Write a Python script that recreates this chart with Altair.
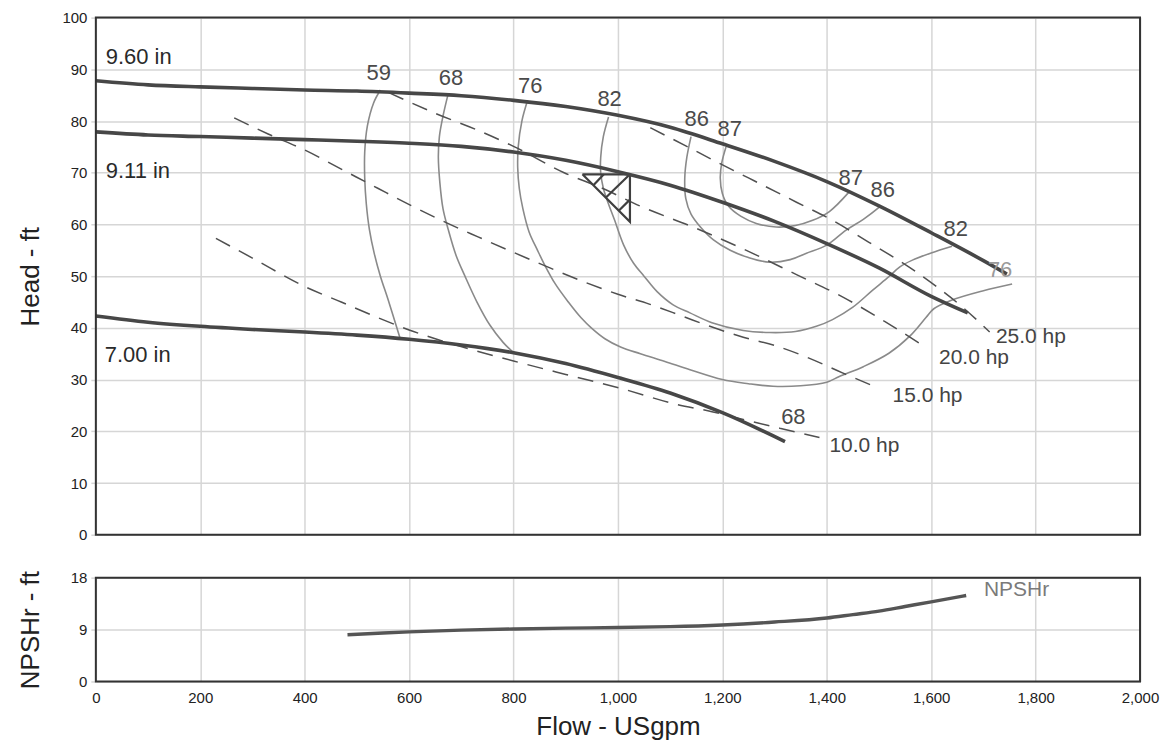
import altair as alt
import pandas as pd

# ---------------- data ----------------
FLOW_TICKS = [0, 200, 400, 600, 800, 1000, 1200, 1400, 1600, 1800, 2000]
HEAD_TICKS = [0, 10, 20, 30, 40, 50, 60, 70, 80, 90, 100]
NPSH_TICKS = [0, 9, 18]

# impeller head curves
imp960_flow = [0, 100, 200, 300, 400, 500, 600, 700, 800, 900, 1000, 1100, 1200, 1300, 1400, 1500, 1600, 1700, 1745]
imp960_head = [87.8, 87.0, 86.6, 86.3, 86.0, 85.8, 85.4, 84.9, 84.0, 82.8, 81.1, 78.8, 75.6, 72.2, 68.3, 63.6, 58.4, 53.0, 50.4]
imp911_flow = [0, 100, 200, 300, 400, 500, 600, 700, 800, 900, 1000, 1100, 1200, 1300, 1400, 1500, 1600, 1670]
imp911_head = [77.9, 77.3, 77.0, 76.7, 76.4, 76.1, 75.7, 75.1, 74.0, 72.4, 70.2, 67.6, 64.3, 60.6, 56.3, 51.6, 46.1, 42.9]
imp700_flow = [0, 100, 200, 300, 400, 500, 600, 700, 800, 900, 1000, 1100, 1200, 1320]
imp700_head = [42.3, 41.1, 40.3, 39.7, 39.2, 38.6, 37.8, 36.7, 35.2, 33.1, 30.4, 27.4, 23.6, 18.0]

# iso-efficiency curves
eff59_flow = [545, 532, 520, 515, 515, 518, 524, 533, 545, 560, 583]
eff59_head = [86.0, 83.5, 79.0, 74.0, 69.0, 64.0, 59.0, 54.5, 50.0, 45.4, 37.9]
eff68_flow = [675, 665, 658, 656, 659, 665, 675, 690, 707, 730, 755, 780, 800]
eff68_head = [85.3, 81.0, 77.0, 73.0, 68.0, 63.0, 59.0, 54.0, 50.0, 45.0, 40.5, 37.2, 35.2]
eff76_flow = [827, 816, 809, 808, 811, 818, 830, 846, 859, 880, 905, 929, 950, 975, 1005, 1043, 1090, 1138, 1200,
              1250, 1297, 1350, 1400, 1424, 1470, 1519, 1560, 1590, 1605, 1640, 1700, 1755]
eff76_head = [84.0, 80.0, 75.0, 71.0, 67.0, 63.0, 58.5, 55.0, 52.3, 48.5, 45.0, 42.0, 39.9, 37.9, 36.3, 35.0, 33.5,
              31.9, 30.0, 29.2, 28.7, 28.8, 29.5, 30.6, 32.5, 35.1, 38.5, 42.0, 43.7, 45.4, 47.2, 48.5]
eff82_flow = [982, 972, 967, 967, 972, 980, 993, 1011, 1030, 1050, 1075, 1105, 1138, 1180, 1240, 1291, 1340, 1380,
              1411, 1450, 1488, 1519, 1540, 1564, 1600, 1640]
eff82_head = [80.8, 77.0, 73.0, 70.0, 67.0, 64.5, 61.0, 56.0, 52.5, 50.0, 47.0, 44.5, 42.9, 41.0, 39.5, 39.1, 39.3,
              40.3, 41.6, 44.0, 47.3, 49.9, 51.8, 53.1, 54.5, 55.8]
eff86_flow = [1140, 1132, 1128, 1130, 1140, 1158, 1183, 1215, 1250, 1290, 1330, 1360, 1400, 1437, 1470, 1500]
eff86_head = [77.0, 73.0, 69.0, 65.0, 62.0, 59.5, 57.0, 55.0, 53.6, 52.7, 53.2, 54.4, 56.0, 58.9, 61.0, 63.3]
eff87_flow = [1207, 1199, 1196, 1200, 1212, 1235, 1265, 1303, 1340, 1373, 1405, 1442]
eff87_head = [75.0, 72.0, 69.0, 66.0, 63.5, 61.6, 60.2, 59.5, 59.8, 60.8, 62.5, 66.2]

# constant-power lines
hp25_flow = [1062, 1130, 1189, 1250, 1303, 1342, 1411, 1480, 1557, 1610, 1659, 1712]
hp25_head = [78.7, 75.2, 72.1, 69.0, 66.3, 64.3, 60.8, 56.6, 51.8, 48.0, 44.1, 39.2]
hp20_flow = [561, 650, 732, 802, 897, 970, 1037, 1151, 1250, 1342, 1430, 1510, 1592]
hp20_head = [85.5, 81.5, 78.2, 75.0, 70.0, 67.0, 63.8, 59.2, 54.8, 50.3, 46.0, 41.3, 36.1]
hp15_flow = [265, 330, 400, 472, 540, 605, 670, 732, 800, 872, 940, 1000, 1060, 1120, 1176, 1240, 1303, 1360, 1430, 1500]
hp15_head = [80.6, 77.5, 74.4, 70.6, 67.0, 63.6, 60.4, 57.6, 54.6, 51.5, 48.7, 46.5, 44.6, 42.4, 40.3, 38.2, 36.5,
             34.4, 31.3, 28.3]
hp10_flow = [230, 300, 400, 470, 535, 600, 656, 720, 800, 900, 1002, 1113, 1180, 1240, 1310, 1386]
hp10_head = [57.3, 53.5, 48.0, 45.0, 42.2, 39.6, 37.7, 35.8, 33.6, 31.0, 28.4, 25.2, 23.8, 22.3, 20.6, 18.8]

# duty point triangle and its hatching
tri_flow = [932, 1023, 1023, 932]
tri_head = [69.7, 69.7, 60.5, 69.7]
hatch1_flow = [973, 953]
hatch1_head = [69.7, 67.6]
hatch2_flow = [1023, 977]
hatch2_head = [69.7, 65.2]
hatch3_flow = [1023, 1002]
hatch3_head = [64.8, 62.7]

# NPSHr curve
npsh_flow = [482, 550, 600, 700, 800, 900, 1000, 1100, 1200, 1300, 1400, 1450, 1500, 1550, 1600, 1667]
npsh_val = [8.1, 8.4, 8.6, 8.9, 9.1, 9.25, 9.35, 9.5, 9.8, 10.3, 11.0, 11.6, 12.2, 13.0, 13.8, 14.9]

# labels
imp_label_text = ["9.60 in", "9.11 in", "7.00 in"]
imp_label_flow = [19, 19, 17]
imp_label_head = [92.4, 70.3, 34.8]
eff_label_text = ["59", "68", "76", "82", "86", "87", "87", "86", "82", "68"]
eff_label_flow = [542, 680, 832, 984, 1151, 1214, 1446, 1507, 1647, 1336]
eff_label_head = [89.3, 88.4, 86.8, 84.3, 80.3, 78.4, 68.9, 66.6, 59.1, 22.7]
end_label_text = ["76"]
end_label_flow = [1732]
end_label_head = [51.2]
hp_label_text = ["25.0 hp", "20.0 hp", "15.0 hp", "10.0 hp"]
hp_label_flow = [1724, 1615, 1526, 1405]
hp_label_head = [38.3, 34.2, 26.8, 17.1]
npsh_label_text = ["NPSHr"]
npsh_label_flow = [1701]
npsh_label_val = [15.8]


def curve_df(name, flows, heads):
    return pd.DataFrame({"flow": flows, "head": heads, "curve": name, "ord": list(range(len(flows)))})


imp_df = pd.concat([curve_df("9.60", imp960_flow, imp960_head),
                    curve_df("9.11", imp911_flow, imp911_head),
                    curve_df("7.00", imp700_flow, imp700_head)])
eff_df = pd.concat([curve_df("59", eff59_flow, eff59_head),
                    curve_df("68", eff68_flow, eff68_head),
                    curve_df("76", eff76_flow, eff76_head),
                    curve_df("82", eff82_flow, eff82_head),
                    curve_df("86", eff86_flow, eff86_head),
                    curve_df("87", eff87_flow, eff87_head)])
hp_df = pd.concat([curve_df("25", hp25_flow, hp25_head),
                   curve_df("20", hp20_flow, hp20_head),
                   curve_df("15", hp15_flow, hp15_head),
                   curve_df("10", hp10_flow, hp10_head)])
tri_df = pd.concat([curve_df("tri", tri_flow, tri_head),
                    curve_df("h1", hatch1_flow, hatch1_head),
                    curve_df("h2", hatch2_flow, hatch2_head),
                    curve_df("h3", hatch3_flow, hatch3_head)])
npsh_df = pd.DataFrame({"flow": npsh_flow, "npsh": npsh_val, "ord": list(range(len(npsh_flow)))})

imp_lab = pd.DataFrame({"flow": imp_label_flow, "head": imp_label_head, "label": imp_label_text})
eff_lab = pd.DataFrame({"flow": eff_label_flow, "head": eff_label_head, "label": eff_label_text})
end_lab = pd.DataFrame({"flow": end_label_flow, "head": end_label_head, "label": end_label_text})
hp_lab = pd.DataFrame({"flow": hp_label_flow, "head": hp_label_head, "label": hp_label_text})
npsh_lab = pd.DataFrame({"flow": npsh_label_flow, "npsh": npsh_label_val, "label": npsh_label_text})
one_row = pd.DataFrame({"k": [0]})

# ---------------- styling ----------------
FONT = "Liberation Sans"
GRID = "#d6d6d6"
TXT = "#222222"
FRAME = "#333333"
W_PLOT = 1046
H_TOP = 518
H_BOT = 104

X_SCALE = alt.Scale(domain=[0, 2000], nice=False, zero=False)
Y_SCALE = alt.Scale(domain=[0, 100], nice=False)
N_SCALE = alt.Scale(domain=[0, 18], nice=False)

y_axis_common = dict(grid=True, gridColor=GRID, gridWidth=1.5, domain=False,
                     ticks=True, tickColor=GRID, tickSize=5, tickWidth=1.5,
                     labelFontSize=15, labelColor=TXT, labelPadding=4, labelFont=FONT,
                     titleFontSize=26, titleFontWeight="normal", titleColor=TXT, titleFont=FONT,
                     minExtent=48, maxExtent=48, titlePadding=4)

x_top = alt.X("flow:Q", scale=X_SCALE,
              axis=alt.Axis(values=FLOW_TICKS, labels=False, ticks=False, domain=False, title=None,
                            grid=True, gridColor=GRID, gridWidth=1.5))
y_top = alt.Y("head:Q", scale=Y_SCALE,
              axis=alt.Axis(values=HEAD_TICKS, title="Head - ft", **y_axis_common))


def lines(df, interp, **kw):
    return alt.Chart(df).mark_line(interpolate=interp, **kw).encode(
        x=x_top, y=y_top, detail="curve:N", order="ord:Q")


def texts(df, **kw):
    return alt.Chart(df).mark_text(font=FONT, **kw).encode(x=x_top, y=y_top, text="label:N")


def frame(h):
    return alt.Chart(one_row).mark_rect(filled=False, stroke=FRAME, strokeWidth=2).encode(
        x=alt.value(0), x2=alt.value(W_PLOT), y=alt.value(0), y2=alt.value(h))


eff_layer = lines(eff_df, "catmull-rom", color="#8a8a8a", strokeWidth=1.6)
hp_layer = lines(hp_df, "monotone", color="#505050", strokeWidth=1.5, strokeDash=[16, 10])
imp_layer = lines(imp_df, "monotone", color="#474747", strokeWidth=3.6)
tri_layer = lines(tri_df, "linear", color="#3f3f3f", strokeWidth=2.2)

imp_text = texts(imp_lab, align="left", baseline="middle", fontSize=22, color="#2a2a2a")
eff_text = texts(eff_lab, align="center", baseline="middle", fontSize=22, color="#4a4a4a")
end_text = texts(end_lab, align="center", baseline="middle", fontSize=22, color="#9a9a9a")
hp_text = texts(hp_lab, align="left", baseline="middle", fontSize=21, color="#444444")

top = alt.layer(eff_layer, hp_layer, tri_layer, imp_layer, end_text, imp_text, eff_text, hp_text,
                frame(H_TOP)).properties(width=W_PLOT, height=H_TOP)

x_bot = alt.X("flow:Q", scale=X_SCALE,
              axis=alt.Axis(values=FLOW_TICKS, format=",.0f", title="Flow - USgpm", grid=True, gridColor=GRID,
                            gridWidth=1.5, domain=False, ticks=False, labelFlush=False,
                            labelFontSize=15, labelColor=TXT, labelPadding=9, labelFont=FONT,
                            titleFontSize=26, titleFontWeight="normal", titleColor=TXT, titleFont=FONT,
                            titlePadding=8))
y_bot = alt.Y("npsh:Q", scale=N_SCALE,
              axis=alt.Axis(values=NPSH_TICKS, title="NPSHr - ft", **y_axis_common))

npsh_line = alt.Chart(npsh_df).mark_line(color="#555555", strokeWidth=3.4, interpolate="monotone").encode(
    x=x_bot, y=y_bot, order="ord:Q")
npsh_text = alt.Chart(npsh_lab).mark_text(font=FONT, align="left", baseline="middle", fontSize=21,
                                          color="#7a7a7a").encode(x=x_bot, y=y_bot, text="label:N")
bottom = alt.layer(npsh_line, npsh_text, frame(H_BOT)).properties(width=W_PLOT, height=H_BOT)

chart = alt.vconcat(top, bottom, spacing=43, bounds="flush").properties(
    padding={"left": 9, "top": 1, "right": 0, "bottom": 0}
).configure_view(strokeWidth=0).configure(font=FONT, background="white")

chart.save("out.html", embed_options={"renderer": "svg", "actions": False})
